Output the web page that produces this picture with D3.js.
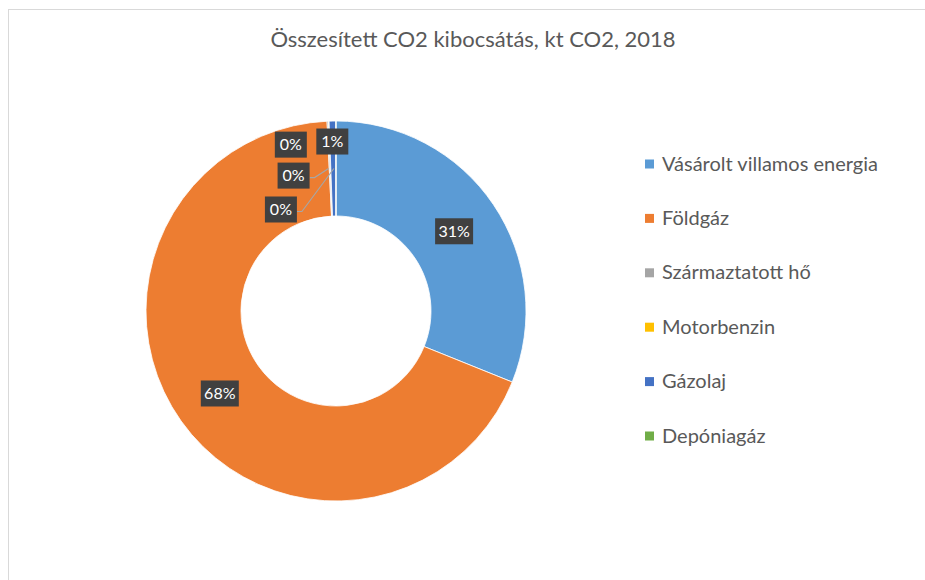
<!DOCTYPE html>
<html>
<head>
<meta charset="utf-8">
<script src="https://cdn.jsdelivr.net/npm/d3@7"></script>
<style>
  body { margin: 0; background: #fff; }
  svg { display: block; }
  text { font-family: Lato, "Open Sans", sans-serif; }
</style>
</head>
<body>
<div id="chart"></div>
<script>
'use strict';

// Data (share of total CO2, %)
var categories = ['Vásárolt villamos energia', 'Földgáz', 'Származtatott hő', 'Motorbenzin', 'Gázolaj', 'Depóniagáz'];
var values = [31.1, 68.15, 0.12, 0.05, 0.56, 0.02];
var colors = ['#5b9bd5', '#ed7d31', '#a5a5a5', '#ffc000', '#4472c4', '#70ad47'];
var title = 'Összesített CO2 kibocsátás, kt CO2, 2018';

var width = 925, height = 580;
var cx = 336, cy = 311, outerR = 190, innerR = 95;

// small slices get pushed out of the ring, with optional leader lines
var labelShift = [[0, 0], [0, 0], [-39, -24], [-37, 7], [-1, -27], [-55, 41]];
var hasLeader = [false, false, false, true, false, true];

var svg = d3.select('#chart').append('svg')
  .attr('width', width)
  .attr('height', height);

// chart frame
svg.append('rect')
  .attr('x', 8.5).attr('y', 9.5)
  .attr('width', 930).attr('height', 600)
  .attr('fill', 'none')
  .attr('stroke', '#d9d9d9')
  .attr('stroke-width', 1);

svg.append('text')
  .attr('x', 473).attr('y', 47)
  .attr('text-anchor', 'middle')
  .attr('font-size', 22)
  .attr('fill', '#595959')
  .text(title);

var pie = d3.pie().sort(null).value(function(d) { return d; });
var arcs = pie(values);
var arc = d3.arc().innerRadius(innerR).outerRadius(outerR);
var mid = d3.arc().innerRadius((innerR + outerR) / 2).outerRadius((innerR + outerR) / 2);

var g = svg.append('g').attr('transform', 'translate(' + cx + ',' + cy + ')');

g.selectAll('path.slice')
  .data(arcs)
  .enter().append('path')
  .attr('class', 'slice')
  .attr('d', arc)
  .attr('fill', function(d, i) { return colors[i]; })
  .attr('stroke', '#fff')
  .attr('stroke-width', 0.8);

// labels
var total = d3.sum(values);
arcs.forEach(function(d, i) {
  var c = mid.centroid(d);
  var lx = c[0] + labelShift[i][0], ly = c[1] + labelShift[i][1];
  var txt = Math.round(d.value / total * 100) + '%';
  var bw = txt.length > 2 ? 38 : 32, bh = 26;

  if (hasLeader[i]) {
    var sx = lx + bw / 2, sy = ly + 2;
    g.append('polyline')
      .attr('points', [[sx, sy], [sx + 5, sy], [c[0] - 2, c[1]]].map(function(p) { return p.join(','); }).join(' '))
      .attr('fill', 'none')
      .attr('stroke', '#a6a6a6')
      .attr('stroke-width', 1.2);
  }

  g.append('rect')
    .attr('x', lx - bw / 2).attr('y', ly - bh / 2)
    .attr('width', bw).attr('height', bh)
    .attr('fill', '#404040');
  g.append('text')
    .attr('x', lx).attr('y', ly + 5.5)
    .attr('text-anchor', 'middle')
    .attr('font-size', 16)
    .attr('fill', '#fff')
    .text(txt);
});

// legend
var legend = svg.append('g').attr('transform', 'translate(645,164)');
var rows = legend.selectAll('g')
  .data(categories)
  .enter().append('g')
  .attr('transform', function(d, i) { return 'translate(0,' + (i * 54.4) + ')'; });

rows.append('rect')
  .attr('x', 0).attr('y', -4.5)
  .attr('width', 9).attr('height', 9)
  .attr('fill', function(d, i) { return colors[i]; });

rows.append('text')
  .attr('x', 17).attr('y', 6.5)
  .attr('font-size', 20)
  .attr('fill', '#595959')
  .text(function(d) { return d; });
</script>
</body>
</html>
